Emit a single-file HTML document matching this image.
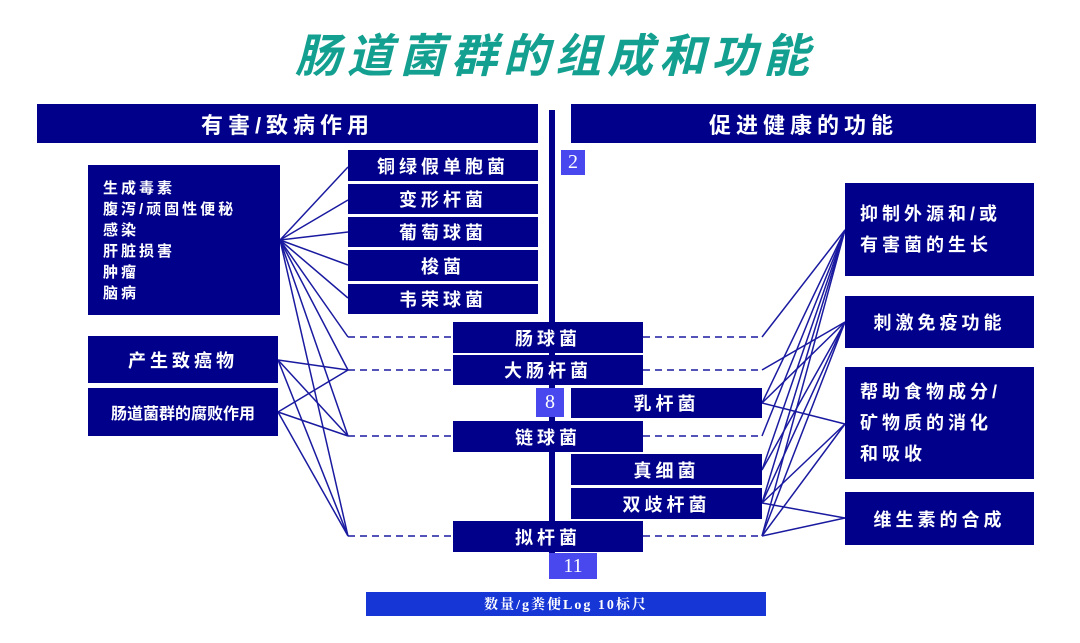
<!DOCTYPE html>
<html><head><meta charset="utf-8"><style>
body{margin:0;width:1080px;height:643px;background:#fff;position:relative;overflow:hidden;font-family:"Liberation Sans","Noto Sans CJK SC",sans-serif;}
.b{position:absolute;background:#00008b;color:#fff;font-weight:bold;display:flex;align-items:center;justify-content:center;letter-spacing:4px;font-size:18px;box-sizing:border-box;}
.n{position:absolute;background:#4848ee;color:#fff;font-family:"Liberation Serif",serif;font-size:20px;display:flex;align-items:center;justify-content:center;}
svg{position:absolute;left:0;top:0;}
</style></head><body>
<div style="position:absolute;left:0;width:1110px;top:20px;text-align:center;font-size:46px;font-weight:bold;font-style:italic;color:#14a090;letter-spacing:6px;font-family:'Noto Sans CJK SC',sans-serif;">肠道菌群的组成和功能</div>
<svg width="1080" height="643">
<g stroke="#1a1aa0" stroke-width="1.5" fill="none">
<line x1="280" y1="240" x2="348" y2="167"/><line x1="280" y1="240" x2="348" y2="200"/><line x1="280" y1="240" x2="348" y2="232"/><line x1="280" y1="240" x2="348" y2="265"/><line x1="280" y1="240" x2="348" y2="298"/><line x1="280" y1="240" x2="348" y2="337"/><line x1="280" y1="240" x2="348" y2="370"/><line x1="280" y1="240" x2="348" y2="436"/><line x1="280" y1="240" x2="348" y2="536"/>
<line x1="278" y1="360" x2="348" y2="370"/><line x1="278" y1="360" x2="348" y2="436"/><line x1="278" y1="360" x2="348" y2="536"/>
<line x1="278" y1="412" x2="348" y2="370"/><line x1="278" y1="412" x2="348" y2="436"/><line x1="278" y1="412" x2="348" y2="536"/>
<line x1="762" y1="337" x2="845" y2="230"/><line x1="762" y1="370" x2="845" y2="322"/>
<line x1="762" y1="403" x2="845" y2="230"/><line x1="762" y1="403" x2="845" y2="322"/><line x1="762" y1="403" x2="845" y2="424"/>
<line x1="762" y1="436" x2="845" y2="230"/><line x1="762" y1="470" x2="845" y2="230"/><line x1="762" y1="470" x2="845" y2="322"/>
<line x1="762" y1="503" x2="845" y2="230"/><line x1="762" y1="503" x2="845" y2="322"/><line x1="762" y1="503" x2="845" y2="424"/><line x1="762" y1="503" x2="845" y2="518"/>
<line x1="762" y1="536" x2="845" y2="230"/><line x1="762" y1="536" x2="845" y2="322"/><line x1="762" y1="536" x2="845" y2="424"/><line x1="762" y1="536" x2="845" y2="518"/>
</g>
<g stroke="#1a1aa0" stroke-width="1.5" stroke-dasharray="7,5">
<line x1="348" y1="337" x2="453" y2="337"/><line x1="348" y1="370" x2="453" y2="370"/><line x1="348" y1="436" x2="453" y2="436"/><line x1="348" y1="536" x2="453" y2="536"/>
<line x1="643" y1="337" x2="762" y2="337"/><line x1="643" y1="370" x2="762" y2="370"/><line x1="643" y1="436" x2="762" y2="436"/><line x1="643" y1="536" x2="762" y2="536"/>
</g>
<rect x="549" y="110" width="6" height="445" fill="#00008b"/>
</svg>
<div class="b" style="left:37px;top:104px;width:501px;height:39px;font-size:22px;letter-spacing:5px">有害/致病作用</div>
<div class="b" style="left:571px;top:104px;width:465px;height:39px;font-size:22px;letter-spacing:5px">促进健康的功能</div>
<div class="n" style="left:561px;top:150px;width:24px;height:25px">2</div>
<div class="b" style="left:88px;top:165px;width:192px;height:150px;justify-content:flex-start;align-items:flex-start;padding:13px 0 0 15px;font-size:15px;line-height:21px;letter-spacing:3px;">生成毒素<br>腹泻/顽固性便秘<br>感染<br>肝脏损害<br>肿瘤<br>脑病</div>
<div class="b" style="left:348px;top:150px;width:190px;height:31px">铜绿假单胞菌</div>
<div class="b" style="left:348px;top:184px;width:190px;height:30px">变形杆菌</div>
<div class="b" style="left:348px;top:217px;width:190px;height:30px">葡萄球菌</div>
<div class="b" style="left:348px;top:250px;width:190px;height:31px">梭菌</div>
<div class="b" style="left:348px;top:284px;width:190px;height:30px">韦荣球菌</div>
<div class="b" style="left:88px;top:336px;width:190px;height:47px">产生致癌物</div>
<div class="b" style="left:88px;top:388px;width:190px;height:48px;font-size:16px;letter-spacing:0">肠道菌群的腐败作用</div>
<div class="b" style="left:453px;top:322px;width:190px;height:31px">肠球菌</div>
<div class="b" style="left:453px;top:355px;width:190px;height:30px">大肠杆菌</div>
<div class="n" style="left:536px;top:388px;width:28px;height:29px">8</div>
<div class="b" style="left:571px;top:388px;width:191px;height:30px">乳杆菌</div>
<div class="b" style="left:453px;top:421px;width:190px;height:31px">链球菌</div>
<div class="b" style="left:571px;top:454px;width:191px;height:31px">真细菌</div>
<div class="b" style="left:571px;top:488px;width:191px;height:31px">双歧杆菌</div>
<div class="b" style="left:453px;top:521px;width:190px;height:31px">拟杆菌</div>
<div class="n" style="left:549px;top:553px;width:48px;height:26px">11</div>
<div class="b" style="left:366px;top:592px;width:400px;height:24px;background:#1636d6;font-size:14px;letter-spacing:2px;font-family:'Liberation Serif','Noto Serif CJK SC',serif">数量/g粪便Log 10标尺</div>
<div class="b" style="left:845px;top:183px;width:189px;height:93px;justify-content:flex-start;padding-left:15px;line-height:31px">抑制外源和/或<br>有害菌的生长</div>
<div class="b" style="left:845px;top:296px;width:189px;height:52px">刺激免疫功能</div>
<div class="b" style="left:845px;top:367px;width:189px;height:112px;justify-content:flex-start;padding-left:15px;line-height:31px">帮助食物成分/<br>矿物质的消化<br>和吸收</div>
<div class="b" style="left:845px;top:492px;width:189px;height:53px">维生素的合成</div>
</body></html>
